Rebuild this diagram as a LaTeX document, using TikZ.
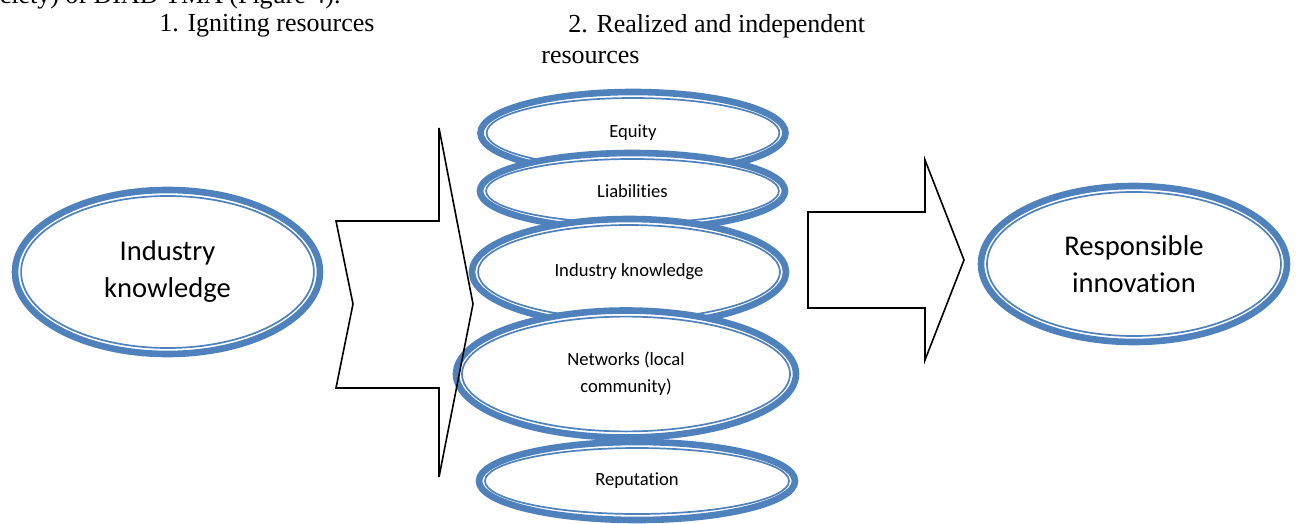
\documentclass[tikz,border=0pt]{standalone}
\usepackage{fontspec}
\setmainfont{Liberation Serif}
\newfontfamily\calibri[Ligatures=NoCommon]{Carlito}
\usepackage{tikz}
\usetikzlibrary{shapes.geometric}
\definecolor{ringblue}{RGB}{79,129,189}

\begin{document}
\begin{tikzpicture}[x = 0.5pt, y = -0.5pt, line join = miter,
    ring/.style = {ellipse, draw=ringblue, line width=3.3pt, fill=white, inner sep=0pt, outer sep=0pt, align=center, font=\calibri\fontsize{9.3}{13.5}\selectfont},
    bigring/.style = {ring, font=\calibri\fontsize{14.3}{18.5}\selectfont},
    thinring/.style = {draw=ringblue, line width=0.85pt},
    heading/.style = {inner sep=0pt, font=\fontsize{13}{15.5}\selectfont},
    blockarrow/.style = {draw=black, line width=0.8pt}]
    \useasboundingbox (0, 0) rectangle (1296, 524);
    \clip (0, 0) rectangle (1296, 524);

    \node[heading, anchor=base east] (top) at (341, 4) {society) of DIAD TMA (Figure 4).};
    \node[heading, anchor=base west] (h1) at (159, 32) {1. Igniting resources};
    \node[heading, anchor=north west, align=left] (h2) at (541, 14.5) {\hspace*{13.5pt}2. Realized and independent\\resources};

    \node[bigring, minimum width=152.5pt, minimum height=82pt] (ik) at (167.5, 272) {Industry\\knowledge};
    \draw[thinring] (ik.center) ellipse (73.2pt and 38pt);

    \node[ring, minimum width=152.5pt, minimum height=41pt] (eq) at (633, 133) {Equity};
    \draw[thinring] (eq.center) ellipse (73.2pt and 17.5pt);
    \node[ring, minimum width=152.5pt, minimum height=38pt] (li) at (632.5, 191) {Liabilities};
    \draw[thinring] (li.center) ellipse (73.2pt and 16pt);
    \node[ring, minimum width=157pt, minimum height=53pt] (ik2) at (629, 272) {Industry knowledge};
    \draw[thinring] (ik2.center) ellipse (75.5pt and 23.5pt);
    \node[ring, minimum width=170pt, minimum height=63.5pt] (net) at (626, 374) {Networks (local\\community)};
    \draw[thinring] (net.center) ellipse (82pt and 28.7pt);
    \node[ring, minimum width=158pt, minimum height=39pt] (rep) at (637, 481) {Reputation};
    \draw[thinring] (rep.center) ellipse (76pt and 16.5pt);

    \node[bigring, minimum width=153pt, minimum height=78pt] (ri) at (1134, 264) {Responsible\\innovation};
    \draw[thinring] (ri.center) ellipse (73.5pt and 36pt);

    % notched arrow into the stack, plain arrow out of it
    \draw[blockarrow] (336, 221) -- (439, 221) -- (439, 128) -- (473, 304) -- (439, 477)
        -- (439, 388) -- (336, 388) -- (353, 304) -- cycle;
    \draw[blockarrow] (808, 212) -- (925, 212) -- (925, 160) -- (964, 260) -- (925, 360)
        -- (925, 308) -- (808, 308) -- cycle;
\end{tikzpicture}
\end{document}
